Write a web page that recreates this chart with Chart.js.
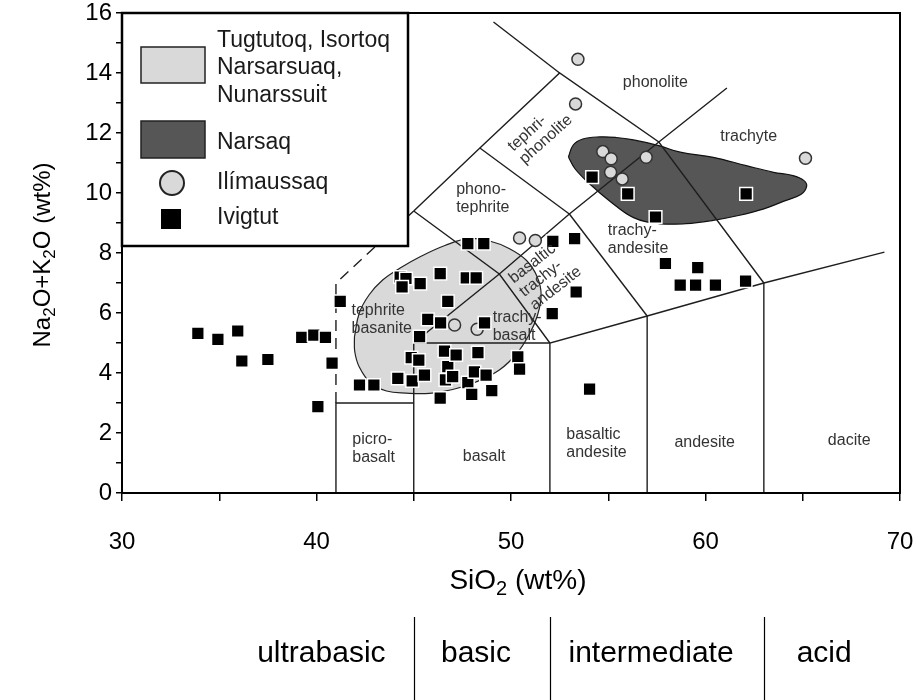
<!DOCTYPE html>
<html>
<head>
<meta charset="utf-8">
<title>TAS diagram - South Greenland</title>
<script src="https://cdn.jsdelivr.net/npm/chart.js@4/dist/chart.umd.min.js"></script>
<style>
    html, body { margin: 0; padding: 0; background: #fff; }
    #wrap { position: relative; width: 919px; height: 700px; }
</style>
</head>
<body>
<div id="wrap"><canvas id="tasChart"></canvas></div>
<script>
(function () {

    'use strict';

    var FONT = '"Liberation Sans", Arial, Helvetica, sans-serif';
    var ink = '#1e1e1e';

    // ------------------------------------------------------- //
    // Axes
    // ------------------------------------------------------ //
    var xTickLabels = [30, 40, 50, 60, 70];
    var yTickLabels = [0, 2, 4, 6, 8, 10, 12, 14, 16];

    // ------------------------------------------------------- //
    // Samples (SiO2 wt%, Na2O+K2O wt%)
    // ------------------------------------------------------ //
    var ivigtutSiO2 = [33.9, 34.93, 35.95, 36.16, 37.5, 39.24, 39.86, 40.46, 41.22, 40.8,
        40.07, 42.21, 42.95, 44.18, 44.92, 45.55, 44.3, 44.6, 44.4, 45.33,
        46.36, 46.75, 45.72, 46.38, 45.3, 44.87, 45.26, 46.58, 46.75, 46.63,
        46.36, 47.78, 48.6, 52.15, 53.27, 47.7, 48.21, 53.35, 52.12, 48.64,
        47.18, 48.3, 50.35, 50.44, 47.78, 48.12, 48.72, 47.98, 49.01, 47.0,
        57.94, 59.6, 58.7, 59.49, 60.51, 62.06, 54.04, 54.17, 56.0, 57.43, 62.09];
    var ivigtutAlkali = [5.32, 5.12, 5.4, 4.4, 4.45, 5.19, 5.26, 5.19, 6.39, 4.33,
        2.88, 3.6, 3.6, 3.82, 3.74, 3.93, 7.2, 7.15, 6.87, 6.98,
        7.31, 6.39, 5.79, 5.67, 5.21, 4.51, 4.43, 4.73, 4.21, 3.77,
        3.16, 8.31, 8.31, 8.39, 8.48, 7.17, 7.17, 6.7, 5.98, 5.67,
        4.6, 4.68, 4.54, 4.13, 3.68, 4.04, 3.93, 3.29, 3.41, 3.88,
        7.65, 7.51, 6.93, 6.93, 6.93, 7.06, 3.46, 10.53, 9.97, 9.2, 9.97];

    var ilimaussaqSiO2 = [53.44, 53.32, 54.72, 55.15, 55.12, 55.72, 56.95, 65.14, 50.44, 51.25, 47.1, 48.26];
    var ilimaussaqAlkali = [14.46, 12.97, 11.38, 11.14, 10.69, 10.47, 11.19, 11.16, 8.5, 8.42, 5.6, 5.46];

    // Outline of the Narsaq field
    var narsaqField = [[52.95, 11.2], [53.2, 11.6], [53.69, 11.8], [54.55, 11.87], [55.4, 11.85],
        [56.3, 11.77], [57.6, 11.58], [58.7, 11.36], [60.4, 11.19], [62.1, 10.91], [63.5, 10.69],
        [64.5, 10.58], [65.05, 10.42], [65.2, 10.22], [64.9, 9.95], [64.0, 9.72], [63.0, 9.47],
        [61.7, 9.25], [60.4, 9.09], [59.0, 8.98], [57.6, 8.98], [56.3, 9.18], [55.1, 9.72],
        [54.05, 10.3], [53.3, 10.8], [52.95, 11.2]];

    // Outline of the Tugtutoq / Isortoq / Narsarsuaq / Nunarssuit field
    var gardarField = [[41.95, 5.2], [42.2, 6.0], [42.7, 6.6], [43.4, 7.1], [44.3, 7.5], [45.4, 7.9],
        [46.6, 8.25], [47.8, 8.48], [48.9, 8.4], [49.9, 8.15], [50.8, 7.75], [51.35, 7.2],
        [51.55, 6.6], [51.35, 5.9], [50.95, 5.3], [50.3, 4.65], [49.4, 4.1], [48.2, 3.7],
        [47.0, 3.45], [45.8, 3.32], [44.6, 3.33], [43.6, 3.4], [42.8, 3.65], [42.2, 4.2],
        [41.97, 4.7], [41.95, 5.2]];

    // ------------------------------------------------------- //
    // TAS field boundaries (Le Bas et al. 1986)
    // ------------------------------------------------------ //
    var tasBoundaries = [
        [[41, 0], [41, 3], [45, 3]],
        [[45, 0], [45, 5], [52, 5]],
        [[52, 0], [52, 5], [57, 5.9], [63, 7], [69.2, 8.03]],
        [[57, 0], [57, 5.9]],
        [[63, 0], [63, 7]],
        [[45, 5], [49.4, 7.3], [53, 9.3], [57.6, 11.7], [61.1, 13.5]],
        [[45, 9.4], [49.4, 7.3], [52, 5]],
        [[53, 9.3], [57, 5.9]],
        [[45, 9.4], [48.4, 11.5], [52.5, 14], [57.6, 11.7], [63, 7]],
        [[48.4, 11.5], [53, 9.3]],
        [[52.5, 14], [49.1, 15.7]]
    ];
    var tasDashed = [[41, 3], [41, 7], [45, 9.4]];

    var fieldLabels = [
        { lines: ['phonolite'], x: 55.75, y: 13.68 },
        { lines: ['trachyte'], x: 60.76, y: 11.87 },
        { lines: ['tephri-', 'phonolite'], x: 49.97, y: 11.48, angle: -42 },
        { lines: ['phono-', 'tephrite'], x: 47.18, y: 9.83 },
        { lines: ['trachy-', 'andesite'], x: 54.98, y: 8.45 },
        { lines: ['basaltic', 'trachy-', 'andesite'], x: 50.0, y: 7.09, angle: -38 },
        { lines: ['tephrite', 'basanite'], x: 41.8, y: 5.78 },
        { lines: ['trachy-', 'basalt'], x: 49.06, y: 5.56 },
        { lines: ['picro-', 'basalt'], x: 41.84, y: 1.48 },
        { lines: ['basalt'], x: 47.52, y: 1.21 },
        { lines: ['basaltic', 'andesite'], x: 52.84, y: 1.66 },
        { lines: ['andesite'], x: 58.4, y: 1.67 },
        { lines: ['dacite'], x: 66.29, y: 1.75 }
    ];

    // Silica classes under the x axis
    var silicaClasses = ['ultrabasic', 'basic', 'intermediate', 'acid'];
    var silicaClassCentres = [40.25, 48.2, 57.2, 66.1];
    var silicaLimits = [45, 52, 63];

    function toPoints(pairs) {
        return pairs.map(function (p) { return { x: p[0], y: p[1] }; });
    }

    function zip(xs, ys) {
        return xs.map(function (x, i) { return { x: x, y: ys[i] }; });
    }

    // text with subscripts, parts = [[text, isSub], ...], centred on (cx, cy)
    function drawSubText(ctx, parts, cx, cy, size) {
        var subSize = Math.round(size * 0.72);
        var total = 0;
        parts.forEach(function (p) {
            ctx.font = (p[1] ? subSize : size) + 'px ' + FONT;
            p.w = ctx.measureText(p[0]).width;
            total += p.w;
        });
        var x = cx - total / 2;
        var base = cy + size * 0.36;
        ctx.textAlign = 'left';
        ctx.textBaseline = 'alphabetic';
        parts.forEach(function (p) {
            ctx.font = (p[1] ? subSize : size) + 'px ' + FONT;
            ctx.fillText(p[0], x, p[1] ? base + size * 0.22 : base);
            x += p.w;
        });
    }

    // ------------------------------------------------------- //
    // Frame, field names, axis titles, silica classes
    // ------------------------------------------------------ //
    var annotations = {
        id: 'annotations',
        afterDatasetsDraw: function (chart) {
            var ctx = chart.ctx;
            var a = chart.chartArea;
            var xs = chart.scales.x;
            var ys = chart.scales.y;

            ctx.save();
            ctx.strokeStyle = '#000';
            ctx.lineWidth = 2;
            ctx.strokeRect(a.left, a.top, a.right - a.left, a.bottom - a.top);

            ctx.fillStyle = '#333';
            ctx.font = '16px ' + FONT;
            ctx.textAlign = 'left';
            ctx.textBaseline = 'middle';
            fieldLabels.forEach(function (f) {
                var px = xs.getPixelForValue(f.x);
                var py = ys.getPixelForValue(f.y);
                ctx.save();
                ctx.translate(px, py);
                if (f.angle) {
                    ctx.rotate(f.angle * Math.PI / 180);
                    f.lines.forEach(function (t, i) {
                        ctx.fillText(t, 0, i * 17);
                    });
                } else {
                    var off = (f.lines.length - 1) * 18 / 2;
                    f.lines.forEach(function (t, i) {
                        ctx.fillText(t, 0, i * 18 - off);
                    });
                }
                ctx.restore();
            });

            // axis titles
            ctx.fillStyle = '#000';
            drawSubText(ctx, [['SiO', false], ['2', true], [' (wt%)', false]],
                (a.left + a.right) / 2 + 7, 579, 28);
            ctx.save();
            ctx.translate(41, 255);
            ctx.rotate(-Math.PI / 2);
            drawSubText(ctx, [['Na', false], ['2', true], ['O+K', false], ['2', true], ['O (wt%)', false]],
                0, 0, 24);
            ctx.restore();

            // silica classes
            ctx.strokeStyle = '#000';
            ctx.lineWidth = 1.2;
            silicaLimits.forEach(function (v) {
                var px = Math.round(xs.getPixelForValue(v)) + 0.5;
                ctx.beginPath();
                ctx.moveTo(px, 617);
                ctx.lineTo(px, 700);
                ctx.stroke();
            });
            ctx.font = '30px ' + FONT;
            ctx.textAlign = 'center';
            ctx.textBaseline = 'middle';
            silicaClasses.forEach(function (name, i) {
                ctx.fillText(name, xs.getPixelForValue(silicaClassCentres[i]), 654);
            });
            ctx.restore();
        }
    };

    // ------------------------------------------------------- //
    // Legend box in the upper left corner
    // ------------------------------------------------------ //
    var legendBox = {
        id: 'legendBox',
        afterDraw: function (chart) {
            var ctx = chart.ctx;
            var a = chart.chartArea;
            var left = a.left;
            var top = a.top;

            ctx.save();
            ctx.fillStyle = '#fff';
            ctx.fillRect(left, top, 286, 233);
            ctx.strokeStyle = '#000';
            ctx.lineWidth = 2.5;
            ctx.strokeRect(left, top, 286, 233);

            ctx.lineWidth = 1.5;
            ctx.strokeStyle = '#222';
            ctx.fillStyle = '#d9d9d9';
            ctx.fillRect(left + 19, top + 34, 64, 36);
            ctx.strokeRect(left + 19, top + 34, 64, 36);

            ctx.fillStyle = '#565656';
            ctx.fillRect(left + 19, top + 108, 64, 37);
            ctx.strokeRect(left + 19, top + 108, 64, 37);

            ctx.beginPath();
            ctx.arc(left + 50, top + 170, 12, 0, Math.PI * 2);
            ctx.fillStyle = '#d9d9d9';
            ctx.fill();
            ctx.lineWidth = 2;
            ctx.stroke();

            ctx.fillStyle = '#000';
            ctx.fillRect(left + 39, top + 196, 20, 20);

            ctx.fillStyle = '#1a1a1a';
            ctx.font = '23px ' + FONT;
            ctx.textAlign = 'left';
            ctx.textBaseline = 'middle';
            ctx.fillText('Tugtutoq, Isortoq', left + 95, top + 28);
            ctx.fillText('Narsarsuaq,', left + 95, top + 55);
            ctx.fillText('Nunarssuit', left + 95, top + 83);
            ctx.fillText('Narsaq', left + 95, top + 130);
            ctx.fillText('Ilímaussaq', left + 95, top + 170);
            ctx.fillText('Ivigtut', left + 95, top + 205);
            ctx.restore();
        }
    };

    // ------------------------------------------------------- //
    // Datasets
    // ------------------------------------------------------ //
    var datasets = [];

    datasets.push({
        label: 'Ivigtut',
        data: zip(ivigtutSiO2, ivigtutAlkali),
        showLine: false,
        pointStyle: 'rect',
        pointRadius: 9,
        pointHoverRadius: 9,
        pointBackgroundColor: '#000',
        pointBorderColor: '#fff',
        pointBorderWidth: 1.5,
        order: 0
    });

    datasets.push({
        label: 'Ilímaussaq',
        data: zip(ilimaussaqSiO2, ilimaussaqAlkali),
        showLine: false,
        pointStyle: 'circle',
        pointRadius: 6,
        pointHoverRadius: 6,
        pointBackgroundColor: '#d9d9d9',
        pointBorderColor: '#333',
        pointBorderWidth: 1.5,
        order: 1
    });

    tasBoundaries.forEach(function (line) {
        datasets.push({
            data: toPoints(line),
            borderColor: ink,
            borderWidth: 1.4,
            pointRadius: 0,
            fill: false,
            order: 2
        });
    });

    datasets.push({
        data: toPoints(tasDashed),
        borderColor: ink,
        borderWidth: 1.4,
        borderDash: [11, 7],
        pointRadius: 0,
        fill: false,
        order: 2
    });

    datasets.push({
        label: 'Narsaq',
        data: toPoints(narsaqField),
        fill: 'shape',
        backgroundColor: '#565656',
        borderColor: '#111',
        borderWidth: 1.2,
        tension: 0.4,
        pointRadius: 0,
        order: 3
    });

    datasets.push({
        label: 'Tugtutoq, Isortoq, Narsarsuaq, Nunarssuit',
        data: toPoints(gardarField),
        fill: 'shape',
        backgroundColor: '#d9d9d9',
        borderColor: '#222',
        borderWidth: 1.2,
        tension: 0.4,
        pointRadius: 0,
        order: 4
    });

    // ------------------------------------------------------- //
    // Chart
    // ------------------------------------------------------ //
    var tickFont = { family: FONT, size: 24 };

    var tasChart = new Chart(document.getElementById('tasChart'), {
        type: 'line',
        data: { datasets: datasets },
        options: {
            responsive: true,
            maintainAspectRatio: false,
            animation: false,
            events: [],
            layout: { padding: { left: 0, right: 19, top: 13, bottom: 0 } },
            plugins: {
                legend: { display: false },
                tooltip: { enabled: false }
            },
            scales: {
                x: {
                    type: 'linear',
                    min: 30,
                    max: 70,
                    afterFit: function (scale) {
                        scale.height = 207;
                        scale.paddingLeft = 0;
                        scale.paddingRight = 0;
                    },
                    ticks: {
                        stepSize: 5,
                        autoSkip: false,
                        maxRotation: 0,
                        padding: 27,
                        color: '#000',
                        font: tickFont,
                        callback: function (v) { return xTickLabels.indexOf(v) >= 0 ? String(v) : ''; }
                    },
                    grid: { drawOnChartArea: false, tickLength: 8, color: '#000', lineWidth: 1.5 },
                    border: { color: '#000', width: 2 }
                },
                y: {
                    type: 'linear',
                    min: 0,
                    max: 16,
                    afterFit: function (scale) {
                        scale.width = 122;
                        scale.paddingTop = 0;
                        scale.paddingBottom = 0;
                    },
                    ticks: {
                        stepSize: 1,
                        autoSkip: false,
                        padding: 4,
                        color: '#000',
                        font: tickFont,
                        callback: function (v) { return yTickLabels.indexOf(v) >= 0 ? String(v) : ''; }
                    },
                    grid: { drawOnChartArea: false, tickLength: 6, color: '#000', lineWidth: 1.5 },
                    border: { color: '#000', width: 2 }
                }
            }
        },
        plugins: [annotations, legendBox]
    });

}());
</script>
</body>
</html>
